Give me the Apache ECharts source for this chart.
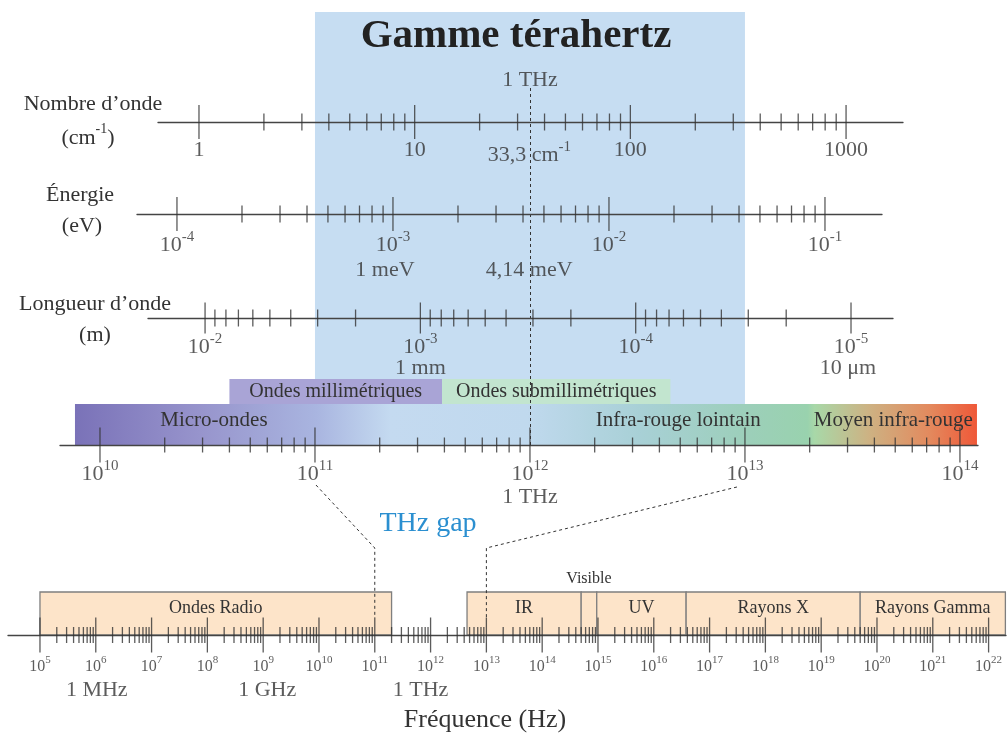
<!DOCTYPE html>
<html>
<head>
<meta charset="utf-8">
<script src="https://cdn.jsdelivr.net/npm/echarts@6/dist/echarts.min.js"></script>
<style>
  html, body { margin: 0; padding: 0; background: #fff; }
  #chart { width: 1008px; height: 738px; }
</style>
</head>
<body>
<div id="chart"></div>
<script>
const FONT = 'Liberation Serif';
const INK = '#333333';

// major ticks (decades) of each scale
const wavenumberTicks = [1, 10, 100, 1000];               // cm-1
const energyTicks = [1e-4, 1e-3, 1e-2, 1e-1];             // eV
const wavelengthTicks = [1e-2, 1e-3, 1e-4, 1e-5];         // m
const thzTicks = [1e10, 1e11, 1e12, 1e13, 1e14];          // Hz
const spectrumTicks = [1e5, 1e6, 1e7, 1e8, 1e9, 1e10, 1e11, 1e12, 1e13,
  1e14, 1e15, 1e16, 1e17, 1e18, 1e19, 1e20, 1e21, 1e22];  // Hz
const minorSteps = [2, 3, 4, 5, 6, 7, 8, 9];

// remarkable values [value, text, dx]
const wavenumberNotes = [[33.3, '{b|33,3 cm}{s|-1}', 2]];
const energyNotes = [[1e-3, '1 meV', -8], [4.14e-3, '4,14 meV', 3]];
const wavelengthNotes = [[1e-3, '1 mm', 0], [1e-5, '10 μm', -3]];
const thzNotes = [[1e12, '1 THz', 0]];
const spectrumNotes = [[1e6, '1 MHz', 1], [1e9, '1 GHz', 4], [1e12, '1 THz', -10]];

// bands (Hz)
const thzRange = [1e11, 1e13];
const thzBar = [7.65e9, 1.2e14];
const thzBarNames = [['Micro-ondes', 7.65e9, 1.5e11], ['Infra-rouge lointain', 1.2e12, 2e13], ['Moyen infra-rouge', 2e13, 1.2e14]];
const waveBands = [['Ondes millimétriques', 4e10, 3.9e11, '#a9a4d6'], ['Ondes submillimétriques', 3.9e11, 4.5e12, '#c2e5cf']];
const spectrumBands = [['Ondes Radio', 1e5, 2e11], ['IR', 4.5e12, 5e14], ['Visible', 5e14, 9.5e14],
  ['UV', 9.5e14, 3.8e16], ['Rayons X', 3.8e16, 5e19], ['Rayons Gamma', 5e19, 2e22]];

function minorsOf(decades) {
  const d = decades.slice().sort((a, b) => a - b);
  const out = [];
  for (let i = 0; i < d.length - 1; i++) {
    minorSteps.forEach(m => out.push([m * d[i], 0]));
  }
  return out;
}

function rich(big) {
  const fs = big ? 22 : 16, ss = big ? 15 : 11, lh = big ? 27 : 20;
  return {
    b: { fontFamily: FONT, fontSize: fs, color: INK, lineHeight: lh, verticalAlign: 'bottom' },
    s: { fontFamily: FONT, fontSize: ss, color: INK, lineHeight: lh, verticalAlign: 'top' }
  };
}

const rows = [
  { grid: { left: 158, top: 102, width: 745, height: 40 }, min: Math.pow(10, -0.19), max: Math.pow(10, 3.264), y: [-1, 1],
    ticks: wavenumberTicks, plain: true, major: 34, minor: 17, labelDy: 28, notes: wavenumberNotes, noteDy: 31 },
  { grid: { left: 137, top: 194, width: 745, height: 40 }, min: Math.pow(10, -4.185), max: Math.pow(10, -0.736), y: [-1, 1],
    ticks: energyTicks, major: 34, minor: 17, labelDy: 29, notes: energyNotes, noteDy: 56 },
  { grid: { left: 148, top: 298, width: 745, height: 40 }, min: Math.pow(10, -5.195), max: Math.pow(10, -1.735), y: [-1, 1],
    inverse: true, ticks: wavelengthTicks, major: 31, minor: 17, labelDy: 27, notes: wavelengthNotes, noteDy: 50 },
  { grid: { left: 60, top: 12, width: 918, height: 448 }, min: Math.pow(10, 9.814), max: Math.pow(10, 14.084), y: [-15, 433],
    ticks: thzTicks, major: 35, minor: 15, labelDy: 27, notes: thzNotes, noteDy: 52 },
  { grid: { left: 8, top: 580, width: 998, height: 110 }, min: Math.pow(10, 4.427), max: Math.pow(10, 22.312), y: [-55, 55],
    ticks: spectrumTicks, small: true, major: 35, minor: 16, labelDy: 30, notes: spectrumNotes, noteDy: 55 }
];

const series = [];
rows.forEach((r, i) => {
  const base = { type: 'scatter', xAxisIndex: i, yAxisIndex: i, silent: true, clip: false, animation: false, emphasis: { disabled: true } };
  series.push(Object.assign({}, base, {
    z: 9, symbol: 'rect', symbolSize: [1.3, r.minor], itemStyle: { color: INK },
    data: minorsOf(r.ticks)
  }));
  series.push(Object.assign({}, base, {
    z: 9, symbol: 'rect', symbolSize: [1.3, r.major], itemStyle: { color: INK },
    data: r.ticks.map(v => [v, 0]),
    label: {
      show: true, position: 'inside', offset: [0, r.labelDy],
      fontFamily: FONT, fontSize: 22, color: INK,
      formatter: p => r.plain ? String(p.value[0]) : '{b|10}{s|' + Math.round(Math.log10(p.value[0])) + '}',
      rich: rich(!r.small)
    }
  }));
  series.push(Object.assign({}, base, {
    z: 9, symbolSize: 0,
    data: r.notes.map(n => ({ name: n[1], value: [n[0], 0], label: { offset: [n[2], r.noteDy] } })),
    label: {
      show: true, position: 'inside', fontFamily: FONT, fontSize: 22, color: INK,
      formatter: p => p.name, rich: rich(true)
    }
  }));
});

// THz range band, 1 THz dashed line and title label
series.push({
  type: 'scatter', xAxisIndex: 3, yAxisIndex: 3, silent: true, z: 0, symbolSize: 0,
  data: [{ name: '1 THz', value: [1e12, 0] }],
  label: { show: true, position: 'inside', offset: [0, -365], fontFamily: FONT, fontSize: 22, color: INK, formatter: p => p.name },
  markArea: {
    silent: true, z: 0,
    itemStyle: { color: '#c6ddf2' },
    data: [[{ xAxis: thzRange[0], yAxis: 0 }, { xAxis: thzRange[1], yAxis: 433 }]]
  },
  markLine: {
    silent: true, symbol: ['none', 'none'], label: { show: false },
    lineStyle: { color: '#333', type: [3, 3], width: 1 },
    data: [[{ coord: [1e12, 0] }, { coord: [1e12, 357] }]]
  }
});

// gradient bar + wave bands
series.push({
  type: 'scatter', xAxisIndex: 3, yAxisIndex: 3, silent: true, z: 1, symbolSize: 0,
  data: [[1e12, 0]],
  markArea: {
    silent: true, z: 1,
    data: [
      [{ xAxis: thzBar[0], yAxis: 0, itemStyle: { color: {
        type: 'linear', x: 0, y: 0, x2: 1, y2: 0, colorStops: [
          { offset: 0, color: '#7a72b8' }, { offset: 0.138, color: '#9794cc' },
          { offset: 0.268, color: '#a9b5e0' }, { offset: 0.35, color: '#c4daf0' },
          { offset: 0.5, color: '#c0d9ee' }, { offset: 0.626, color: '#a8d0d6' },
          { offset: 0.748, color: '#9ccfb9' }, { offset: 0.812, color: '#99d2ae' },
          { offset: 0.82, color: '#a8d8a8' }, { offset: 0.88, color: '#cdb283' },
          { offset: 0.947, color: '#e38a5e' }, { offset: 1, color: '#ef5838' }
        ] } } }, { xAxis: thzBar[1], yAxis: 41 }]
    ].concat(thzBarNames.map(b => [
      { name: b[0], xAxis: b[1], yAxis: 0, itemStyle: { color: 'rgba(0,0,0,0)' },
        label: { show: true, position: 'insideTop', distance: 6, fontFamily: FONT, fontSize: 21, color: INK } },
      { xAxis: b[2], yAxis: 41 }
    ])).concat(waveBands.map(b => [
      { name: b[0], xAxis: b[1], yAxis: 41, itemStyle: { color: b[3] },
        label: { show: true, position: 'inside', fontFamily: FONT, fontSize: 20, color: INK } },
      { xAxis: b[2], yAxis: 66 }
    ]))
  }
});

// spectrum boxes
series.push({
  type: 'scatter', xAxisIndex: 4, yAxisIndex: 4, silent: true, z: 1, symbolSize: 0,
  data: [[1e12, 0]],
  markArea: {
    silent: true,
    itemStyle: { color: '#fde4c9', borderColor: '#7f7f7f', borderWidth: 1.3 },
    data: spectrumBands.map(b => [
      { name: b[0], xAxis: b[1], yAxis: 0,
        label: b[0] === 'Visible'
          ? { show: true, position: 'top', distance: 5, fontFamily: FONT, fontSize: 16, color: INK }
          : { show: true, position: 'insideTop', distance: 8, fontFamily: FONT, fontSize: 18, color: INK } },
      { xAxis: b[2], yAxis: 43 }
    ])
  }
});

const option = {
  animation: false,
  backgroundColor: '#fff',
  grid: rows.map(r => Object.assign({ containLabel: false }, r.grid)),
  xAxis: rows.map((r, i) => ({
    type: 'log', logBase: 10, gridIndex: i, min: r.min, max: r.max, inverse: !!r.inverse, z: 8,
    axisLine: { show: true, onZero: true, lineStyle: { color: '#444', width: 1.3 } },
    axisTick: { show: false }, axisLabel: { show: false }, splitLine: { show: false }
  })),
  yAxis: rows.map((r, i) => ({ type: 'value', gridIndex: i, show: false, min: r.y[0], max: r.y[1] })),
  series: series
};

const chart = echarts.init(document.getElementById('chart'));
chart.setOption(option);

function text(x, y, str, size, extra) {
  return Object.assign({
    type: 'text', x: x, y: y, z: 10, silent: true,
    style: Object.assign({
      text: str, fontFamily: FONT, fontSize: size, fill: INK,
      align: 'center', verticalAlign: 'middle', textAlign: 'center', textVerticalAlign: 'middle',
      rich: {
        s: { fontFamily: FONT, fontSize: 14, fill: INK, lineHeight: 27, verticalAlign: 'top' },
        b: { fontFamily: FONT, fontSize: size, fill: INK, lineHeight: 27, verticalAlign: 'bottom' }
      }
    }, extra || {})
  });
}

// THz gap guides, from the THz scale to the full spectrum scale
const a11 = chart.convertToPixel({ gridIndex: 3 }, [thzRange[0], 0]);
const a13 = chart.convertToPixel({ gridIndex: 3 }, [thzRange[1], 0]);
const b11 = chart.convertToPixel({ gridIndex: 4 }, [thzRange[0], 0]);
const b13 = chart.convertToPixel({ gridIndex: 4 }, [thzRange[1], 0]);
const gapLine = pts => ({
  type: 'polyline', z: 10, silent: true,
  shape: { points: pts },
  style: { stroke: '#333', lineWidth: 1, lineDash: [3, 3], fill: null }
});

chart.setOption({
  graphic: [
    text(516, 36, 'Gamme térahertz', 41, { fontWeight: 'bold', fill: '#222' }),
    text(93, 104, "Nombre d’onde", 22),
    text(88, 136, '{b|(cm}{s|-1}{b|)}', 22),
    text(80, 195, 'Énergie', 22),
    text(82, 226, '(eV)', 22),
    text(95, 304, "Longueur d’onde", 22),
    text(95, 335, '(m)', 22),
    text(428, 524, 'THz gap', 28, { fill: '#2b8fd0' }),
    text(485, 720, 'Fréquence (Hz)', 26),
    gapLine([[a11[0] + 1, a11[1] + 40], [b11[0], 548], [b11[0], b11[1] - 17]]),
    gapLine([[a13[0] - 8, a13[1] + 42], [b13[0], 548], [b13[0], b13[1] - 17]])
  ]
});
</script>
</body>
</html>
